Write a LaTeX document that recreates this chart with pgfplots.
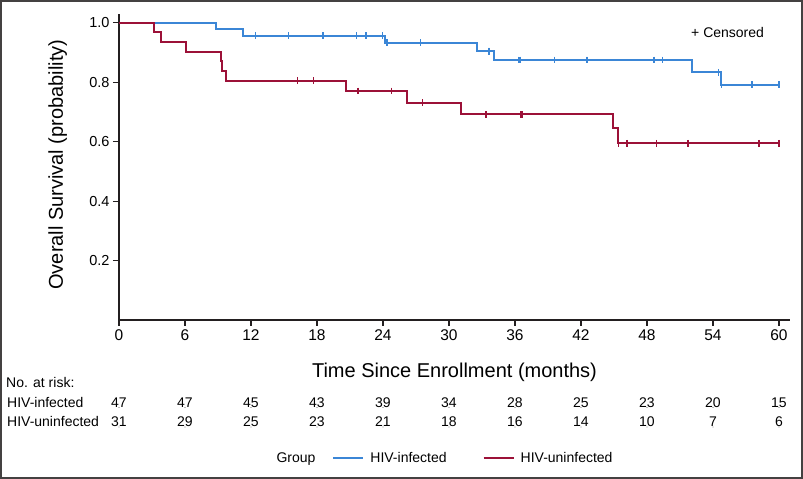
\documentclass[border=0pt]{standalone}
\usepackage{fontspec}
\setmainfont{Liberation Sans}
\usepackage{pgfplots}
\pgfplotsset{compat=1.18}
\definecolor{kmblue}{RGB}{59,134,214}
\definecolor{kmred}{RGB}{156,17,56}
\definecolor{axisgray}{RGB}{35,31,32}
\newcommand{\fs}[1]{\fontsize{#1}{1.2\dimexpr#1\relax}\selectfont}
\begin{document}
\begin{tikzpicture}
\useasboundingbox (0,0) rectangle (803bp,479bp);
\draw[line width=1.6bp, color=axisgray!85] (0.8bp,0.8bp) rectangle (802.2bp,478.2bp);
\begin{axis}[
  at={(119bp,159bp)}, anchor=south west,
  scale only axis, width=671bp, height=306bp,
  xmin=0, xmax=61, ymin=0, ymax=1.03,
  axis x line*=bottom, axis y line*=left,
  axis line style={line width=1.3bp, color=axisgray, -},
  every tick/.style={line width=1.1bp, color=axisgray},
  tick align=outside, major tick length=6bp,
  xtick={0,6,...,60}, ytick={0.2,0.4,0.6,0.8,1.0},
  /pgf/number format/assume math mode=true,
  yticklabel style={/pgf/number format/fixed, /pgf/number format/fixed zerofill, /pgf/number format/precision=1, font=\fs{14.5bp}},
  xticklabel style={font=\fs{15.5bp}},
  xlabel={Time Since Enrollment (months)},
  ylabel={Overall Survival (probability)},
  label style={font=\fs{20bp}},
  xlabel style={at={(axis description cs:0.5,-0.1886)}, anchor=base},
  ylabel style={at={(axis description cs:-0.0835,0.508)}, anchor=base},
  clip=false,
  legend columns=3,
  legend style={at={(0.4814,-0.452)}, anchor=center, draw=none, fill=none,
    font=\fs{14bp}, inner sep=0pt, nodes={inner sep=1bp},
    /tikz/every odd column/.append style={column sep=5bp},
    /tikz/every even column/.append style={column sep=35bp}},
  legend image code/.code={\draw[#1, line width=2bp] (0bp,0bp) -- (30bp,0bp);},
]
\addlegendimage{empty legend}
\addlegendentry{Group\kern-19bp}
% HIV-infected KM curve
\addplot[const plot, color=kmblue, line width=2bp] coordinates {
 (0,1) (8.8,0.979) (11.3,0.957) (24.2,0.933) (32.5,0.905) (34.1,0.875)
 (52.1,0.834) (54.7,0.792) (60,0.792)};
\addlegendentry{HIV-infected}
% HIV-uninfected KM curve
\addplot[const plot, color=kmred, line width=2bp] coordinates {
 (0,1) (3.2,0.968) (3.8,0.935) (6.07,0.903) (9.25,0.871) (9.4,0.839) (9.74,0.806)
 (20.6,0.771) (26.2,0.732) (31.1,0.692) (44.9,0.646) (45.4,0.595) (60,0.595)};
\addlegendentry{HIV-uninfected}
% censored marks
\addplot[forget plot, only marks, color=kmblue, mark=|, mark size=3.4bp, mark options={line width=1.3bp}] coordinates {
 (12.43,0.957) (15.43,0.957) (18.49,0.957) (18.58,0.957) (21.58,0.957) (22.46,0.957) (23.97,0.957)
 (24.37,0.933) (27.40,0.933)
 (33.58,0.905) (33.67,0.905)
 (36.34,0.875) (36.46,0.875) (39.61,0.875) (42.52,0.875) (42.61,0.875) (48.64,0.875) (49.43,0.875)
 (54.52,0.834)
 (54.76,0.792) (57.52,0.792) (57.61,0.792) (60.0,0.792)};
\addplot[forget plot, only marks, color=kmred, mark=|, mark size=3.4bp, mark options={line width=1.3bp}] coordinates {
 (16.24,0.806) (17.70,0.806)
 (21.73,0.771) (24.79,0.771)
 (27.61,0.732)
 (33.37,0.692) (36.55,0.692) (36.64,0.692)
 (45.43,0.595) (46.19,0.595) (48.89,0.595) (51.73,0.595) (58.19,0.595) (60.0,0.595)};
% numbers at risk
\addplot[forget plot, only marks, mark=*, mark size=0.1bp, mark options={draw=none, fill=none},
  point meta=explicit symbolic, nodes near coords={\pgfplotspointmeta},
  every node near coord/.style={anchor=base, inner sep=0pt, font=\fs{14bp}, color=black}]
 table[meta=n] {
 x y n
 0 -0.2945 47
 6 -0.2945 47
 12 -0.2945 45
 18 -0.2945 43
 24 -0.2945 39
 30 -0.2945 34
 36 -0.2945 28
 42 -0.2945 25
 48 -0.2945 23
 54 -0.2945 20
 60 -0.2945 15
 0 -0.3601 31
 6 -0.3601 29
 12 -0.3601 25
 18 -0.3601 23
 24 -0.3601 21
 30 -0.3601 18
 36 -0.3601 16
 42 -0.3601 14
 48 -0.3601 10
 54 -0.3601 7
 60 -0.3601 6
 };
\end{axis}
\node[anchor=base west, inner sep=0pt, font=\fs{14bp}] at (6bp,91.7bp) {No. at risk:};
\node[anchor=base west, inner sep=0pt, font=\fs{14bp}] at (7bp,71.5bp) {HIV-infected};
\node[anchor=base west, inner sep=0pt, font=\fs{14bp}] at (7bp,52bp) {HIV-uninfected};
\node[anchor=base west, inner sep=0pt, font=\fs{14bp}] at (691bp,441bp) {+ Censored};
\end{tikzpicture}
\end{document}
